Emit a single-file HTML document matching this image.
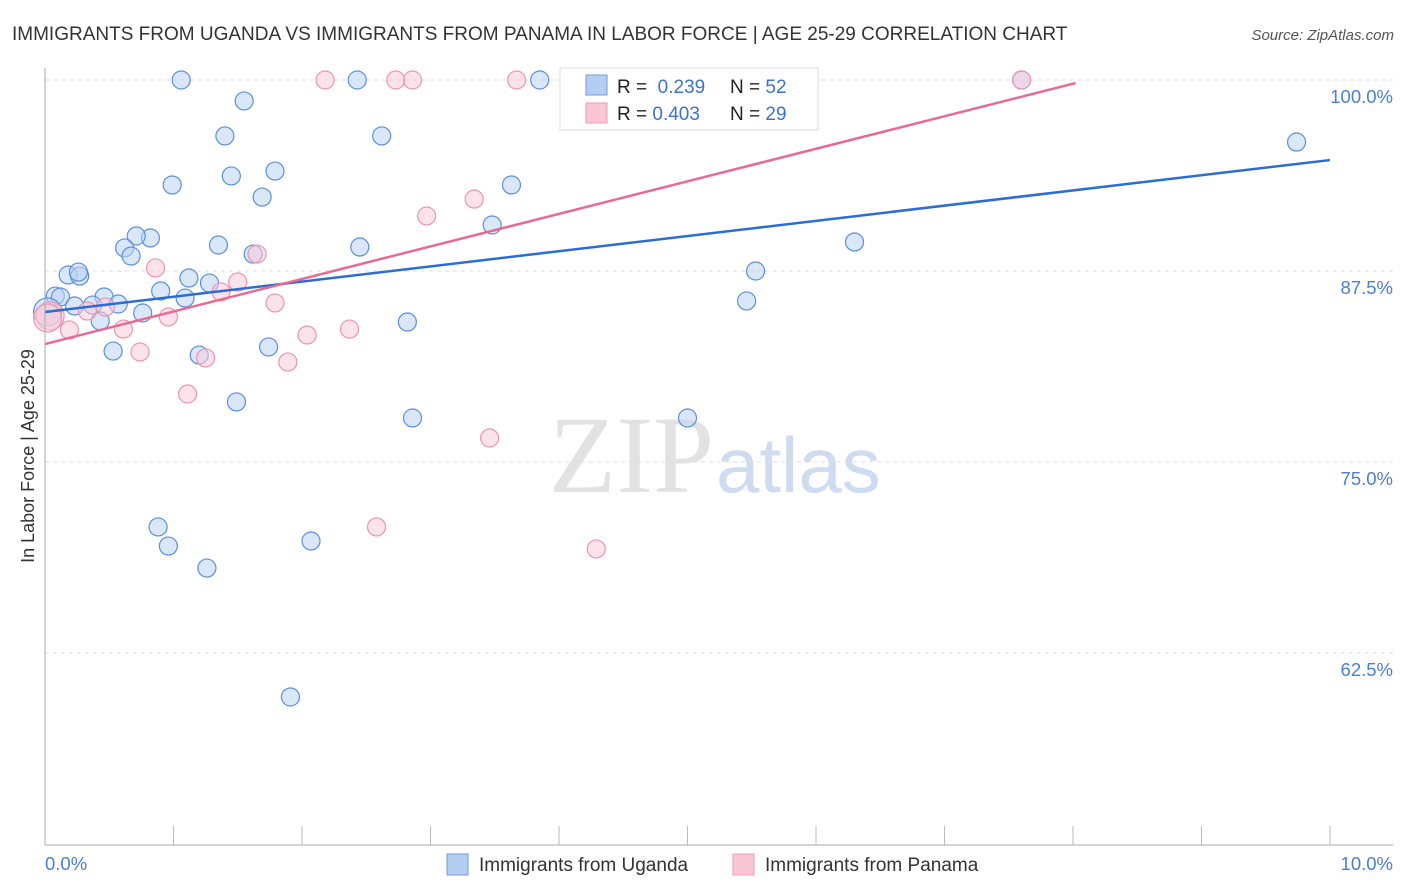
<!DOCTYPE html>
<html><head><meta charset="utf-8"><style>
body{margin:0;background:#fff;font-family:"Liberation Sans",sans-serif}
svg{display:block}
</style></head><body>
<svg width="1406" height="892" id="c">
<text x="12" y="40" font-size="19" fill="#333">IMMIGRANTS FROM UGANDA VS IMMIGRANTS FROM PANAMA IN LABOR FORCE | AGE 25-29 CORRELATION CHART</text>
<text x="1394" y="40" font-size="15" fill="#555" font-style="italic" text-anchor="end">Source: ZipAtlas.com</text>
<text x="714" y="492" font-size="110" fill="#e2e2e2" text-anchor="end" font-family="Liberation Serif">ZIP</text>
<text x="716" y="492" font-size="78" fill="#cddcf0">atlas</text>
<text transform="translate(34,456) rotate(-90)" font-size="18" fill="#333" text-anchor="middle">In Labor Force | Age 25-29</text>
<g id="grid"></g><g id="pts"></g><g id="lines"></g>
<line x1="45" y1="68" x2="45" y2="845" stroke="#aaa"/>
<line x1="45" y1="845" x2="1393" y2="845" stroke="#aaa"/>
<text x="45" y="870" font-size="18.5" fill="#4a7fd4">0.0%</text>
<text x="1393" y="870" font-size="18.5" fill="#4a7fd4" text-anchor="end">10.0%</text>
<g>
<rect x="560" y="68" width="258" height="62" fill="#fff" stroke="#ddd"/>
<rect x="586" y="75" width="21" height="20" fill="#b4cdf2" stroke="#6f9be0"/>
<rect x="586" y="103" width="21" height="20" fill="#f9c6d5" stroke="#ee9ab4"/>
<text x="617" y="93" font-size="19" fill="#222">R = <tspan fill="#3a72d4">&#160;0.239</tspan><tspan x="730">N = </tspan><tspan fill="#3a72d4">52</tspan></text>
<text x="617" y="120" font-size="19" fill="#222">R = <tspan fill="#3a72d4">0.403</tspan><tspan x="730">N = </tspan><tspan fill="#3a72d4">29</tspan></text>
</g>
<g>
<rect x="447" y="854" width="21" height="21" fill="#b4cdf2" stroke="#6f9be0"/>
<text x="479" y="871" font-size="19" fill="#333">Immigrants from Uganda</text>
<rect x="733" y="854" width="21" height="21" fill="#f9c6d5" stroke="#ee9ab4"/>
<text x="765" y="871" font-size="19" fill="#333">Immigrants from Panama</text>
</g>
</svg>
<script>
const yTicks=[100,87.5,75,62.5];
const yTickLabels=["100.0%","87.5%","75.0%","62.5%"];
const xTicks=[0,1,2,3,4,5,6,7,8,9,10];
const ugandaX=[1.06,2.43,3.85,7.60,1.55,1.40,2.62,9.74,0.99,1.45,1.79,1.69,3.63,3.48,0.82,0.71,0.62,0.67,1.35,2.45,1.62,6.30,0.18,0.27,0.26,1.12,1.28,5.53,0.08,0.12,0.46,0.90,1.09,5.46,0.23,0.37,0.57,0.76,0.43,2.82,0.02,0.53,1.20,1.74,1.49,2.86,5.00,0.88,2.07,0.96,1.26,1.91];
const ugandaY=[100,100,100,100,98.63,96.34,96.34,95.94,93.13,93.72,94.04,92.34,93.13,90.51,89.66,89.79,89.01,88.48,89.20,89.07,88.61,89.40,87.24,87.17,87.43,87.04,86.71,87.50,85.86,85.80,85.80,86.19,85.73,85.54,85.21,85.27,85.34,84.75,84.23,84.16,84.82,82.26,82.00,82.53,78.93,77.88,77.88,70.75,69.83,69.50,68.06,59.62];
const panamaX=[2.18,2.73,2.86,3.67,7.60,4.20,3.34,2.97,1.65,0.86,1.50,1.37,1.79,0.96,0.47,0.33,0.04,0.19,0.61,2.04,2.37,0.74,1.25,1.89,1.11,3.46,2.58,4.29,0.02];
const panamaY=[100,100,100,100,100,100,92.21,91.10,88.61,87.70,86.78,86.13,85.41,84.49,85.14,84.88,84.56,83.64,83.70,83.31,83.70,82.20,81.81,81.54,79.45,76.57,70.75,69.31,84.42];
const ugandaTrend=[0,84.82,10,94.76];
const panamaTrend=[0,82.72,8.02,99.8];
const X=v=>45+v*128.5, Y=v=>80+(100-v)*15.28;
const NS="http://www.w3.org/2000/svg";
function mk(t,a,p){const e=document.createElementNS(NS,t);for(const k in a)e.setAttribute(k,a[k]);p.appendChild(e);return e;}
const g=document.getElementById('grid');
yTicks.forEach((v,i)=>{
 const l=mk('line',{x1:45,x2:1393,y1:Y(v),y2:Y(v),stroke:'#ddd','stroke-dasharray':'4,4'},g);
 
 
 const t=mk('text',{x:1393,y:Y(v)+23,'font-size':18.5,fill:'#4a7fd4','text-anchor':'end'},g);
 t.textContent=yTickLabels[i];
 
 
});
xTicks.forEach(v=>{
 const l=mk('line',{x1:X(v),x2:X(v),y1:826,y2:845,stroke:'#bbb'},g);
 
 
});
const p=document.getElementById('pts');
function pts(xs,ys,fill,stroke,name){xs.forEach((x,i)=>{
 const big=(x<0.05);
 const c=mk('circle',{cx:X(x),cy:Y(ys[i]),r:big?14:9,fill:fill,'fill-opacity':0.55,stroke:stroke,'stroke-width':1.2},p);
 
 
});}
pts(ugandaX,ugandaY,'#bcd4f4','#5b8fdc','uganda-point');
pts(panamaX,panamaY,'#f9cbd8','#ec94b0','panama-point');
const L=document.getElementById('lines');
const b=mk('line',{x1:X(ugandaTrend[0]),y1:Y(ugandaTrend[1]),x2:X(ugandaTrend[2]),y2:Y(ugandaTrend[3]),stroke:'#2a6dd6','stroke-width':2.5},L);


const r=mk('line',{x1:X(panamaTrend[0]),y1:Y(panamaTrend[1]),x2:X(panamaTrend[2]),y2:Y(panamaTrend[3]),stroke:'#e86a93','stroke-width':2.5},L);


</script>
</body></html>
